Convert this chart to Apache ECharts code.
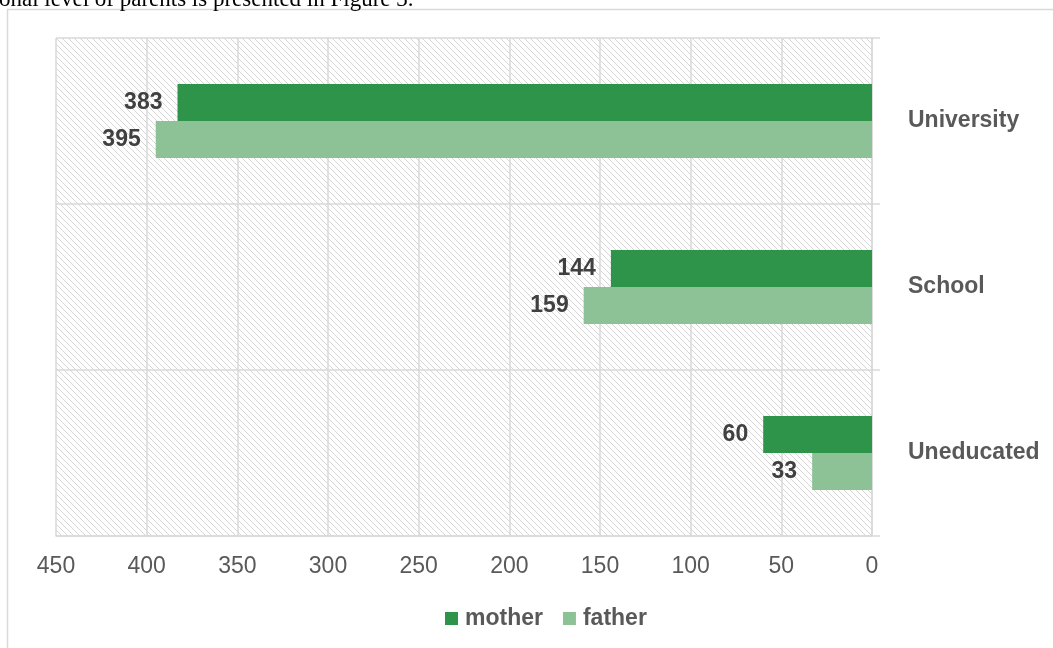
<!DOCTYPE html>
<html>
<head>
<meta charset="utf-8">
<script src="https://cdn.jsdelivr.net/npm/echarts@6/dist/echarts.min.js"></script>
<style>
  html, body { margin: 0; padding: 0; background: #fff; }
  #chart { width: 1053px; height: 648px; }
</style>
</head>
<body>
<div id="chart"></div>
<script>
// Educational level of parents
const categories = ['University', 'School', 'Uneducated'];
const seriesNames = ['mother', 'father'];
const motherValues = [383, 144, 60];
const fatherValues = [395, 159, 33];
const xTicks = { min: 0, max: 450, interval: 50 };
const captionText = 'onal level of parents is presented in Figure 3.';

// Light diagonal hatch used as the plot background
function hatchPattern() {
  const s = 6;
  const c = document.createElement('canvas');
  c.width = s; c.height = s;
  const ctx = c.getContext('2d');
  ctx.strokeStyle = '#d6d6d6';
  ctx.lineWidth = 1;
  ctx.beginPath();
  ctx.moveTo(-1, -1); ctx.lineTo(s + 1, s + 1);
  ctx.moveTo(-1, s - 1); ctx.lineTo(1, s + 1);
  ctx.moveTo(s - 1, -1); ctx.lineTo(s + 1, 1);
  ctx.stroke();
  return { image: c, repeat: 'repeat' };
}

const font = '"Liberation Sans", Arial, sans-serif';
const fs = 23;
const chart = echarts.init(document.getElementById('chart'), null, { renderer: 'canvas' });

chart.setOption({
  animation: false,
  backgroundColor: '#ffffff',
  textStyle: { fontFamily: font },
  graphic: [
    {
      type: 'text', left: -1, top: -12, z: 10,
      style: { text: captionText, font: '23px "Liberation Serif", "Times New Roman", serif', fill: '#000' }
    },
    {
      type: 'rect', z: -1, silent: true,
      shape: { x: 7.5, y: 9.5, width: 1200, height: 800 },
      style: { fill: 'none', stroke: '#d9d9d9', lineWidth: 1.5 }
    }
  ],
  grid: {
    left: 56, right: 181, top: 38, bottom: 112,
    show: true, borderWidth: 0,
    backgroundColor: hatchPattern()
  },
  legend: {
    left: 440, top: 602,
    itemWidth: 13, itemHeight: 13, itemGap: 20,
    icon: 'rect',
    textStyle: { fontFamily: font, fontSize: fs, fontWeight: 'bold', color: '#595959', padding: [0, 0, 0, 2] },
    data: seriesNames
  },
  xAxis: {
    type: 'value', inverse: true,
    min: xTicks.min, max: xTicks.max, interval: xTicks.interval,
    axisLine: { show: true, lineStyle: { color: '#d9d9d9', width: 1.5 } },
    axisTick: { show: false },
    axisLabel: { color: '#595959', fontSize: fs, fontFamily: font, margin: 19 },
    splitLine: { show: true, lineStyle: { color: '#d9d9d9', width: 1.5 } }
  },
  yAxis: {
    type: 'category', position: 'right', inverse: true,
    data: categories,
    axisLine: { show: true, lineStyle: { color: '#d9d9d9', width: 1.5 } },
    axisTick: { show: true, length: 8, lineStyle: { color: '#d9d9d9', width: 1.5 } },
    axisLabel: { color: '#595959', fontSize: fs, fontWeight: 'bold', fontFamily: font, margin: 36, align: 'left', padding: [3, 0, 0, 0] },
    splitLine: { show: true, lineStyle: { color: '#d9d9d9', width: 1.5 } }
  },
  series: [
    {
      name: seriesNames[0], type: 'bar', data: motherValues,
      barWidth: 37, barGap: '0%',
      itemStyle: { color: '#2e944a' },
      label: { show: true, position: 'left', distance: 15, color: '#404040', fontSize: fs, fontWeight: 'bold', fontFamily: font }
    },
    {
      name: seriesNames[1], type: 'bar', data: fatherValues,
      barWidth: 37, barGap: '0%',
      itemStyle: { color: '#8cc296' },
      label: { show: true, position: 'left', distance: 15, color: '#404040', fontSize: fs, fontWeight: 'bold', fontFamily: font }
    }
  ]
});
</script>
</body>
</html>
